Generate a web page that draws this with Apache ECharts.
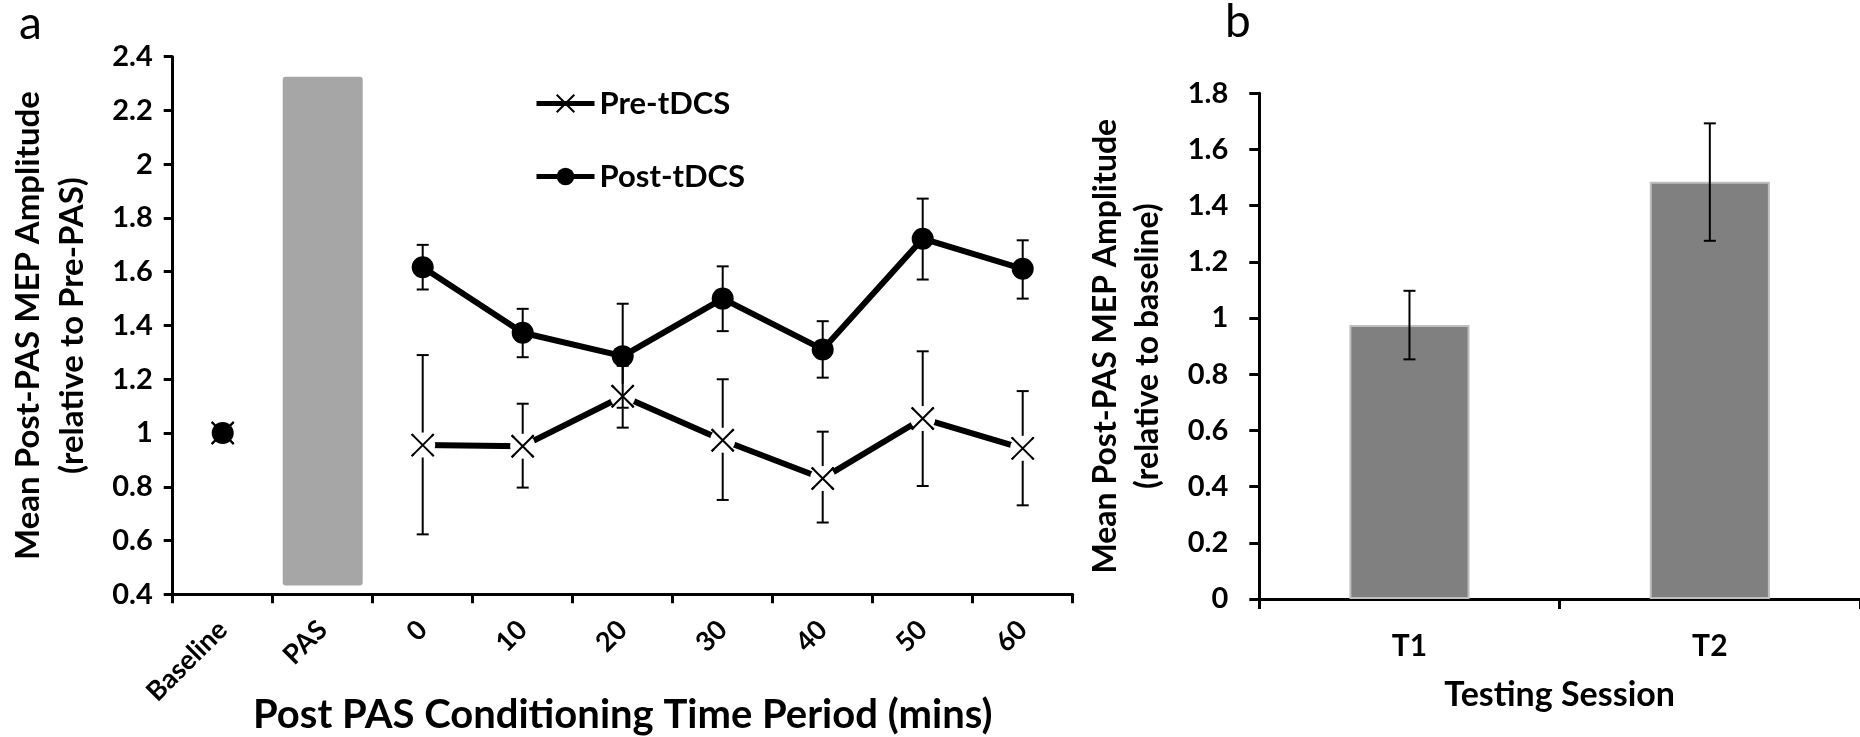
<!DOCTYPE html>
<html><head><meta charset="utf-8">
<script src="https://cdn.jsdelivr.net/npm/echarts@6/dist/echarts.min.js"></script>
<style>html,body{margin:0;padding:0;background:#fff}#c{width:1860px;height:737px}</style>
</head><body><div id="c"></div>
<script>
// ---- Panel a data ----
const categoriesA = ['Baseline', 'PAS', '0', '10', '20', '30', '40', '50', '60'];
const preMean  = [1.0, null, 0.955, 0.951, 1.137, 0.973, 0.831, 1.054, 0.943];
const preLow   = [null, null, 0.623, 0.797, 1.020, 0.751, 0.667, 0.803, 0.731];
const preHigh  = [null, null, 1.290, 1.109, 1.250, 1.200, 1.005, 1.304, 1.156];
const postMean = [1.0, null, 1.617, 1.373, 1.286, 1.500, 1.311, 1.723, 1.611];
const postLow  = [null, null, 1.534, 1.282, 1.094, 1.379, 1.206, 1.571, 1.500];
const postHigh = [null, null, 1.700, 1.462, 1.481, 1.620, 1.416, 1.872, 1.717];
const pasRange = [0.433, 2.325];
const yTicksA = ['0.4', '0.6', '0.8', '1', '1.2', '1.4', '1.6', '1.8', '2', '2.2', '2.4'];

// ---- Panel b data ----
const categoriesB = ['T1', 'T2'];
const sessionMean = [0.975, 1.485];
const sessionLow  = [0.853, 1.275];
const sessionHigh = [1.097, 1.693];
const yTicksB = ['0', '0.2', '0.4', '0.6', '0.8', '1', '1.2', '1.4', '1.6', '1.8'];

const FONT = 'Lato';
const BLACK = '#000';
const X_PATH = 'path://M0,0L20,20M20,0L0,20';

function errData(low, high) {
  const out = [];
  for (let i = 0; i < low.length; i++) {
    if (low[i] != null && high[i] != null) out.push([i, low[i], high[i]]);
  }
  return out;
}
function errRender(capHalf) {
  return function (params, api) {
    const lo = api.coord([api.value(0), api.value(1)]);
    const hi = api.coord([api.value(0), api.value(2)]);
    const st = { stroke: BLACK, lineWidth: 2 };
    return {
      type: 'group',
      children: [
        { type: 'line', shape: { x1: lo[0], y1: lo[1], x2: hi[0], y2: hi[1] }, style: st },
        { type: 'line', shape: { x1: hi[0] - capHalf, y1: hi[1], x2: hi[0] + capHalf, y2: hi[1] }, style: st },
        { type: 'line', shape: { x1: lo[0] - capHalf, y1: lo[1], x2: lo[0] + capHalf, y2: lo[1] }, style: st }
      ]
    };
  };
}
// mask points (white halo under the X markers); skip Baseline where the circle covers it
const preMaskData = preMean.map((v, i) => (i === 0 ? null : v));

const axisLineStyle = { show: true, lineStyle: { color: BLACK, width: 3 } };
const labelStyle = { color: BLACK, fontFamily: FONT, fontWeight: 'bold', fontSize: 29 };

const chart = echarts.init(document.getElementById('c'), null, { renderer: 'canvas' });
chart.setOption({
  animation: false,
  backgroundColor: '#fff',
  textStyle: { fontFamily: FONT },
  title: [
    { text: 'a', left: 14, top: -4, textStyle: { fontFamily: FONT, fontWeight: 'normal', fontSize: 46, color: BLACK } },
    { text: 'b', left: 1220, top: -6, textStyle: { fontFamily: FONT, fontWeight: 'normal', fontSize: 46, color: BLACK } }
  ],
  legend: {
    data: ['Pre-tDCS', 'Post-tDCS'],
    orient: 'vertical',
    left: 529, top: 83,
    itemWidth: 58, itemHeight: 22, itemGap: 42,
    lineStyle: { width: 5 },
    textStyle: { fontFamily: FONT, fontWeight: 'bold', fontSize: 31, color: BLACK }
  },
  grid: [
    { left: 172.7, top: 56.7, width: 900, height: 537.6, containLabel: false, outerBoundsMode: 'none' },
    { left: 1259.3, top: 93.3, width: 600.7, height: 505.7, containLabel: false, outerBoundsMode: 'none' }
  ],
  xAxis: [
    {
      type: 'category', gridIndex: 0, data: categoriesA,
      axisLine: axisLineStyle,
      axisTick: { show: true, length: 9, lineStyle: { color: BLACK, width: 3 } },
      axisLabel: Object.assign({ rotate: 45, margin: 31, interval: 0 }, labelStyle, { fontSize: 27 }),
      name: 'Post PAS Conditioning Time Period (mins)', nameLocation: 'middle', nameGap: 101,
      nameMoveOverlap: false,
      nameTextStyle: { fontFamily: FONT, fontWeight: 'bold', fontSize: 40, color: BLACK }
    },
    {
      type: 'category', gridIndex: 1, data: categoriesB,
      axisLine: axisLineStyle,
      axisTick: { show: true, length: 10, lineStyle: { color: BLACK, width: 3 } },
      axisLabel: Object.assign({ margin: 32, interval: 0 }, labelStyle, { fontSize: 30 }),
      name: 'Testing Session', nameLocation: 'middle', nameGap: 79,
      nameMoveOverlap: false,
      nameTextStyle: { fontFamily: FONT, fontWeight: 'bold', fontSize: 34, color: BLACK }
    }
  ],
  yAxis: [
    {
      type: 'value', gridIndex: 0, min: 0.4, max: 2.4, interval: 0.2,
      axisLine: axisLineStyle,
      axisTick: { show: true, length: 9, lineStyle: { color: BLACK, width: 3 } },
      splitLine: { show: false },
      axisLabel: Object.assign({ margin: 20, formatter: v => yTicksA[Math.round((v - 0.4) / 0.2)] }, labelStyle),
      name: 'Mean Post-PAS MEP Amplitude\n(relative to Pre-PAS)', nameLocation: 'middle', nameRotate: 90, nameGap: 78,
      nameTextStyle: { fontFamily: FONT, fontWeight: 'bold', fontSize: 33, lineHeight: 44, color: BLACK }
    },
    {
      type: 'value', gridIndex: 1, min: 0, max: 1.8, interval: 0.2,
      axisLine: axisLineStyle,
      axisTick: { show: true, length: 10, lineStyle: { color: BLACK, width: 3 } },
      splitLine: { show: false },
      axisLabel: Object.assign({ margin: 31, formatter: v => yTicksB[Math.round(v / 0.2)] }, labelStyle),
      name: 'Mean Post-PAS MEP Amplitude\n(relative to baseline)', nameLocation: 'middle', nameRotate: 90, nameGap: 91,
      nameTextStyle: { fontFamily: FONT, fontWeight: 'bold', fontSize: 32, lineHeight: 42, color: BLACK }
    }
  ],
  series: [
    {
      name: 'PAS', type: 'custom', xAxisIndex: 0, yAxisIndex: 0, z: 1,
      data: [[categoriesA.indexOf('PAS'), pasRange[0], pasRange[1]]],
      renderItem: function (params, api) {
        const lo = api.coord([api.value(0), api.value(1)]);
        const hi = api.coord([api.value(0), api.value(2)]);
        const w = api.size([1, 0])[0] * 0.8;
        return { type: 'rect', shape: { x: lo[0] - w / 2, y: hi[1], width: w, height: lo[1] - hi[1], r: 3 },
                 style: { fill: '#a6a6a6' } };
      }
    },
    {
      name: 'Pre-tDCS', type: 'line', xAxisIndex: 0, yAxisIndex: 0, z: 2,
      data: preMean, connectNulls: false,
      symbol: X_PATH, symbolSize: 22,
      itemStyle: { color: 'rgba(255,255,255,0)', borderColor: BLACK, borderWidth: 2 },
      lineStyle: { color: BLACK, width: 6 }
    },
    {
      name: 'preErr', type: 'custom', xAxisIndex: 0, yAxisIndex: 0, z: 2,
      data: errData(preLow, preHigh), renderItem: errRender(6)
    },
    {
      name: 'preMask', type: 'scatter', xAxisIndex: 0, yAxisIndex: 0, z: 3,
      data: preMaskData, symbol: 'circle', symbolSize: 25, silent: true,
      itemStyle: { color: '#fff', opacity: 1 }
    },
    {
      name: 'preMarks', type: 'scatter', xAxisIndex: 0, yAxisIndex: 0, z: 4,
      data: preMean, symbol: X_PATH, symbolSize: 22, silent: true,
      itemStyle: { color: 'rgba(255,255,255,0)', borderColor: BLACK, borderWidth: 2, opacity: 1 }
    },
    {
      name: 'Post-tDCS', type: 'line', xAxisIndex: 0, yAxisIndex: 0, z: 5,
      data: postMean, connectNulls: false,
      symbol: 'circle', symbolSize: 22,
      itemStyle: { color: BLACK, borderColor: BLACK, borderWidth: 0 },
      lineStyle: { color: BLACK, width: 6 }
    },
    {
      name: 'postErr', type: 'custom', xAxisIndex: 0, yAxisIndex: 0, z: 5,
      data: errData(postLow, postHigh), renderItem: errRender(6)
    },
    {
      name: 'Session', type: 'bar', xAxisIndex: 1, yAxisIndex: 1, z: 1,
      data: sessionMean, barWidth: '40%',
      itemStyle: { color: '#808080', borderColor: '#bfbfbf', borderWidth: 2 }
    },
    {
      name: 'sessionErr', type: 'custom', xAxisIndex: 1, yAxisIndex: 1, z: 3,
      data: errData(sessionLow, sessionHigh), renderItem: errRender(6)
    }
  ]
});
</script>
</body></html>
